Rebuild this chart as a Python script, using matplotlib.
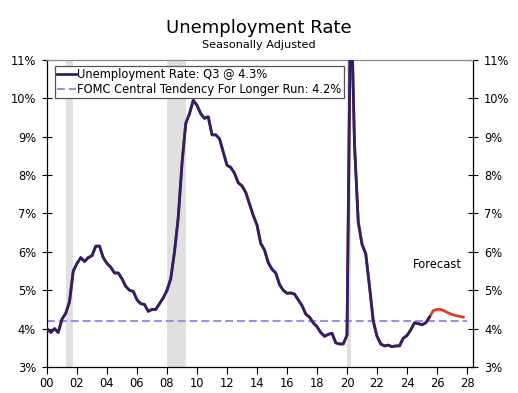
import matplotlib
matplotlib.use("Agg")
import matplotlib.pyplot as plt
import numpy as np

# Quarterly unemployment rate, 2000Q1 .. 2025Q3 (actual)
start_year = 2000
actual = [
    4.0, 3.9, 4.0, 3.9,      # 2000
    4.25, 4.4, 4.7, 5.5,     # 2001
    5.7, 5.85, 5.75, 5.85,   # 2002
    5.9, 6.15, 6.15, 5.85,   # 2003
    5.7, 5.6, 5.45, 5.45,    # 2004
    5.3, 5.1, 5.0, 4.97,     # 2005
    4.75, 4.65, 4.63, 4.45,  # 2006
    4.5, 4.5, 4.65, 4.8,     # 2007
    5.0, 5.3, 6.0, 6.9,      # 2008
    8.3, 9.35, 9.6, 9.95,    # 2009
    9.82, 9.6, 9.48, 9.52,   # 2010
    9.05, 9.05, 8.95, 8.6,   # 2011
    8.26, 8.2, 8.05, 7.8,    # 2012
    7.72, 7.55, 7.25, 6.95,  # 2013
    6.7, 6.22, 6.05, 5.72,   # 2014
    5.55, 5.45, 5.15, 5.0,   # 2015
    4.92, 4.93, 4.9, 4.75,   # 2016
    4.6, 4.38, 4.3, 4.15,    # 2017
    4.05, 3.9, 3.8, 3.85,    # 2018
    3.88, 3.63, 3.6, 3.6,    # 2019
    3.83, 13.0, 8.8, 6.78,   # 2020
    6.2, 5.95, 5.1, 4.2,     # 2021
    3.8, 3.6, 3.55, 3.57,    # 2022
    3.53, 3.55, 3.55, 3.75,  # 2023
    3.82, 3.97, 4.15, 4.13,  # 2024
    4.1, 4.15, 4.3,          # 2025 Q1-Q3
]
# Forecast 2025Q3 .. 2027Q4
forecast = [4.3, 4.47, 4.5, 4.5, 4.46, 4.41, 4.37, 4.34, 4.32, 4.30]
fomc_longer_run = 4.2
recessions = [(2001.25, 2001.75), (2008.0, 2009.25), (2020.0, 2020.25)]

ytick_vals = [3, 4, 5, 6, 7, 8, 9, 10, 11]
xtick_years = list(range(2000, 2029, 2))
xtick_labels = [f"{y % 100:02d}" for y in xtick_years]

t_act = start_year + np.arange(len(actual)) / 4.0
t_fc = t_act[-1] + np.arange(len(forecast)) / 4.0

navy = "#2E2068"
red = "#D8401E"
lav = "#9F8EE6"

fig = plt.figure(figsize=(5.18, 3.93), dpi=100)
ax = fig.add_axes([47/518, 26/393, 426/518, 307/393])

for a, b in recessions:
    ax.axvspan(a, b, color="#E0E0E0", lw=0, zorder=0)

ax.plot([2000, 2028], [fomc_longer_run]*2, color=lav, lw=1.5,
        dashes=(3.8, 1.9), zorder=2,
        label="FOMC Central Tendency For Longer Run: 4.2%")
ax.plot(np.concatenate([t_act, t_fc[1:]]), actual + forecast[1:], color=red,
        lw=2.0, zorder=3)
ax.plot(t_act, actual, color=navy, lw=2.0, zorder=4,
        label="Unemployment Rate: Q3 @ 4.3%")

ax.set_xlim(2000, 2028.4)
ax.set_ylim(3, 11)
ax.set_yticks(ytick_vals)
ax.set_yticklabels([f"{v}%" for v in ytick_vals])
ax.set_xticks(xtick_years)
ax.set_xticklabels(xtick_labels)

ax.tick_params(axis="y", which="both", direction="inout", length=7, width=0.8,
               left=True, right=True, labelleft=True, labelright=True,
               labelsize=8.3, pad=4.5, colors="black")
ax.tick_params(axis="x", direction="out", length=5, width=0.8,
               labelsize=8.3, pad=2)

for s in ["left", "right", "bottom"]:
    ax.spines[s].set_color("black")
    ax.spines[s].set_linewidth(0.9)
ax.spines["top"].set_color("#8A8A8A")
ax.spines["top"].set_linewidth(0.9)

handles, labels = ax.get_legend_handles_labels()
leg = ax.legend(handles[::-1], labels[::-1], loc="upper left",
                bbox_to_anchor=(8/426, 301/307), borderaxespad=0,
                fontsize=8.3, handlelength=1.6, handletextpad=0.15,
                labelspacing=0.15, borderpad=0.2, frameon=True,
                fancybox=False, framealpha=1)
leg.get_frame().set_edgecolor("#555555")
leg.get_frame().set_linewidth(0.9)

ax.text(2026.0, 5.67, "Forecast", fontsize=8.3, ha="center", va="center")

fig.text(0.5, 1 - 28/393, "Unemployment Rate", fontsize=13, ha="center",
         va="center")
fig.text(0.5, 1 - 45/393, "Seasonally Adjusted", fontsize=8.1, ha="center",
         va="center")

fig.savefig("out.png", dpi=100)
